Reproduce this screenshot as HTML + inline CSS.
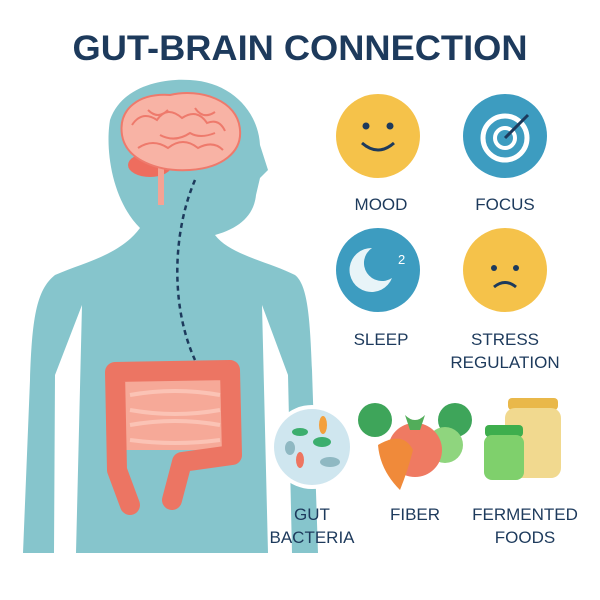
<!DOCTYPE html>
<html><head><meta charset="utf-8"><style>
body{margin:0;width:600px;height:600px;background:#fff;overflow:hidden;font-family:"Liberation Sans",sans-serif}
svg{display:block}
</style></head><body>
<svg width="600" height="600" viewBox="0 0 600 600">
<text x="300" y="60" text-anchor="middle" font-size="35" font-weight="bold" fill="#1d3a5c" font-family="Liberation Sans, sans-serif" textLength="455" lengthAdjust="spacingAndGlyphs">GUT-BRAIN CONNECTION</text>
<!-- body -->
<path d="M140 228 C112 200 105 150 110 120 C122 85 165 78 190 80 C230 82 258 110 260 145 L268 170 L260 178 L256 195 C254 215 240 228 215 235 C230 255 270 262 295 275 C308 285 310 320 312 370 L318 553 L292 553 L288 375 L262 305 L268 553 L76 553 L82 305 L55 375 L54 553 L23 553 L30 380 C32 320 36 290 55 275 C85 262 120 255 140 228 Z" fill="#86c5cc"/>
<!-- brain -->
<ellipse cx="150" cy="165" rx="22" ry="12" fill="#ee6d5e"/>
<rect x="158" y="165" width="6" height="40" fill="#f4a394"/>
<path d="M122 135 C118 108 140 93 170 95 C200 88 238 100 240 130 C242 152 222 168 190 170 C158 172 126 160 122 135 Z" fill="#f8b3a5" stroke="#ee7a6c" stroke-width="2"/>
<path d="M132 125 q10 -15 25 -5 q10 -15 25 -2 q15 -10 25 5 q12 -5 18 8 M138 148 q15 -10 30 0 q15 -12 30 0 q15 -8 25 2 M148 110 q10 10 20 0 M195 108 q8 12 20 4 M160 135 q15 8 30 -2 q10 6 25 0" stroke="#ee7a6c" stroke-width="2" fill="none"/>
<!-- dashed -->
<path d="M195 180 C182 210 175 250 178 290 C180 320 188 345 195 360" stroke="#1d3a5c" stroke-width="2.5" stroke-dasharray="5 4" fill="none"/>
<!-- intestine -->
<rect x="122" y="378" width="104" height="72" fill="#f6a998"/>
<path d="M130 395 q45 -8 90 0 M130 410 q45 8 90 0 M130 425 q45 -8 90 0 M130 440 q45 6 90 0" stroke="#fbc3b5" stroke-width="4" fill="none"/>
<path d="M130 505 L117 470 L115 372 L230 370 L232 455 L182 462 L172 500" stroke="#ec7563" stroke-width="20" fill="none" stroke-linejoin="round" stroke-linecap="round"/>
<!-- icons -->
<circle cx="378" cy="136" r="42" fill="#f5c24a"/>
<circle cx="366" cy="126" r="3.5" fill="#1d3a5c"/><circle cx="390" cy="126" r="3.5" fill="#1d3a5c"/>
<path d="M362 143 q16 14 32 0" stroke="#1d3a5c" stroke-width="3" fill="none"/>
<circle cx="505" cy="136" r="42" fill="#3d9cc0"/>
<circle cx="505" cy="138" r="22" fill="none" stroke="#fff" stroke-width="5"/>
<circle cx="505" cy="138" r="10" fill="none" stroke="#fff" stroke-width="4"/>
<line x1="505" y1="138" x2="528" y2="115" stroke="#1d3a5c" stroke-width="3"/>
<circle cx="378" cy="270" r="42" fill="#3d9cc0"/>
<path d="M372 248 a22 22 0 1 0 20 30 a18 18 0 1 1 -20 -30 z" fill="#e8f4f8"/>
<text x="398" y="264" font-size="13" fill="#fff" font-family="Liberation Sans">2</text>
<circle cx="505" cy="270" r="42" fill="#f5c24a"/>
<circle cx="494" cy="268" r="3" fill="#1d3a5c"/><circle cx="516" cy="268" r="3" fill="#1d3a5c"/>
<path d="M494 287 q11 -9 22 0" stroke="#1d3a5c" stroke-width="3" fill="none"/>
<g font-size="17" fill="#1d3a5c" text-anchor="middle" font-family="Liberation Sans, sans-serif">
<text x="381" y="210">MOOD</text><text x="505" y="210">FOCUS</text>
<text x="381" y="345">SLEEP</text><text x="505" y="345">STRESS</text><text x="505" y="368">REGULATION</text>
<text x="312" y="520">GUT</text><text x="312" y="543">BACTERIA</text>
<text x="415" y="520">FIBER</text>
<text x="525" y="520">FERMENTED</text><text x="525" y="543">FOODS</text>
</g>
<!-- bacteria -->
<circle cx="312" cy="447" r="42" fill="#fff"/>
<circle cx="312" cy="447" r="38" fill="#cfe6ef"/>
<ellipse cx="300" cy="432" rx="8" ry="4" fill="#3cae6e"/><ellipse cx="322" cy="442" rx="9" ry="5" fill="#3cae6e"/>
<ellipse cx="323" cy="425" rx="4" ry="9" fill="#f3a03c"/><ellipse cx="300" cy="460" rx="4" ry="8" fill="#ee7560"/>
<ellipse cx="330" cy="462" rx="10" ry="5" fill="#8fb8c2"/><ellipse cx="290" cy="448" rx="5" ry="7" fill="#8fb8c2"/>
<!-- fiber -->
<circle cx="375" cy="420" r="17" fill="#3ea55a"/><circle cx="455" cy="420" r="17" fill="#3ea55a"/>
<circle cx="445" cy="445" r="18" fill="#8fd57e"/>
<circle cx="415" cy="450" r="27" fill="#ef7a62"/>
<path d="M405 415 q10 10 20 0 l-5 15 h-10z" fill="#52ad5a"/>
<path d="M378 445 q25 -15 35 5 q-5 20 -13 40 q-20 -20 -22 -45z" fill="#f08a3a"/>
<!-- jars -->
<rect x="508" y="398" width="50" height="12" rx="4" fill="#e9b84a"/>
<rect x="505" y="408" width="56" height="70" rx="10" fill="#f1d98f"/>
<rect x="485" y="425" width="38" height="12" rx="4" fill="#3eae4d"/>
<rect x="484" y="435" width="40" height="45" rx="8" fill="#7fd06c"/>
</svg>
</body></html>
